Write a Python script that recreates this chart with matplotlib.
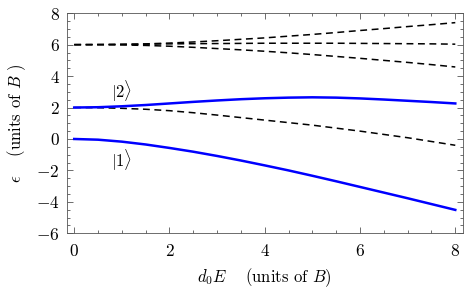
import numpy as np
import matplotlib
matplotlib.use("Agg")
import matplotlib.pyplot as plt
from matplotlib.ticker import MultipleLocator

plt.rcParams['mathtext.fontset'] = 'cm'
plt.rcParams['font.family'] = 'serif'
plt.rcParams['font.serif'] = ['cmr10', 'DejaVu Serif']
plt.rcParams['axes.formatter.use_mathtext'] = True

# field strength d0E (units of B)
field = [0, 0.5, 1, 1.5, 2, 2.5, 3, 3.5, 4, 4.5, 5, 5.5, 6, 6.5, 7, 7.5, 8]

# blue levels (states |1> and |2>)
level_1 = [0.0, -0.045, -0.17, -0.35, -0.57, -0.81, -1.08, -1.37, -1.68,
           -2.0, -2.34, -2.69, -3.05, -3.41, -3.77, -4.14, -4.51]
level_2 = [2.0, 2.02, 2.08, 2.16, 2.26, 2.36, 2.45, 2.53, 2.59,
           2.63, 2.65, 2.63, 2.58, 2.51, 2.43, 2.35, 2.26]

# dashed levels
dash_low = [2.0, 1.99, 1.95, 1.89, 1.8, 1.67, 1.52, 1.36, 1.2,
            1.04, 0.88, 0.69, 0.5, 0.29, 0.08, -0.16, -0.4]
dash_top = [6.0, 6.0, 6.02, 6.05, 6.1, 6.17, 6.25, 6.34, 6.43,
            6.54, 6.65, 6.77, 6.9, 7.02, 7.15, 7.27, 7.4]
dash_mid = [6.0, 6.01, 6.02, 6.03, 6.05, 6.06, 6.07, 6.08, 6.09,
            6.09, 6.09, 6.09, 6.08, 6.07, 6.06, 6.05, 6.03]
dash_bot = [6.0, 6.0, 5.98, 5.95, 5.9, 5.83, 5.75, 5.67, 5.58,
            5.48, 5.37, 5.25, 5.13, 5.0, 4.87, 4.73, 4.58]

xticks = [0, 2, 4, 6, 8]
yticks = [-6, -4, -2, 0, 2, 4, 6, 8]

fig = plt.figure(figsize=(4.69, 3.07), dpi=100)
ax = fig.add_axes([0.142, 0.240, 0.845, 0.717])

for ys in (dash_low, dash_top, dash_mid, dash_bot):
    ax.plot(field, ys, color='black', lw=1.1, dashes=(4.5, 3))
ax.plot(field, level_1, color='#0000ff', lw=1.8)
ax.plot(field, level_2, color='#0000ff', lw=1.8)

ax.text(1.0, 3.0, r'$|2\rangle$', fontsize=12, ha='center', va='center')
ax.text(1.0, -1.35, r'$|1\rangle$', fontsize=12, ha='center', va='center')

ax.set_xlim(-0.16, 8.16)
ax.set_ylim(-6, 8)
ax.set_xticks(xticks)
ax.set_yticks(yticks)
ax.set_xticklabels([f'${v}$' for v in xticks], fontsize=12.5)
ax.set_yticklabels([f'${v}$' for v in yticks], fontsize=12.5)
ax.xaxis.set_minor_locator(MultipleLocator(0.5))
ax.yaxis.set_minor_locator(MultipleLocator(0.5))
ax.tick_params(which='both', direction='in', top=True, right=True, width=0.6, color='#555555')
ax.tick_params(which='major', length=4)
ax.tick_params(which='minor', length=2)
ax.tick_params(axis='x', pad=7)
ax.tick_params(axis='y', pad=5)
for s in ax.spines.values():
    s.set_linewidth(0.6)
    s.set_color('#555555')

ax.set_xlabel(r'$d_0E\quad$ (units of $B$)', fontsize=12, labelpad=5)
ax.set_ylabel(r'$\epsilon\quad$ (units of $B$ )', fontsize=12, labelpad=6)

fig.savefig('out.png', dpi=100)
